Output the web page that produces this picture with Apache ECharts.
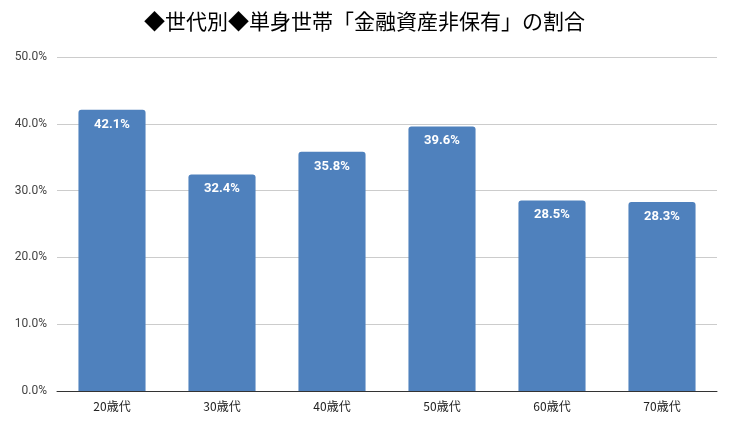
<!DOCTYPE html>
<html>
<head>
<meta charset="utf-8">
<script src="https://cdn.jsdelivr.net/npm/echarts@6/dist/echarts.min.js"></script>
<style>
html, body { margin: 0; padding: 0; background: #fff; }
#chart { width: 729px; height: 430px; }
</style>
</head>
<body>
<div id="chart"></div>
<script>
let categories = ['20歳代', '30歳代', '40歳代', '50歳代', '60歳代', '70歳代'];
let values = [42.1, 32.4, 35.8, 39.6, 28.5, 28.3];

let myChart = echarts.init(document.getElementById('chart'));

let option = {
  animation: false,
  title: {
    text: '◆世代別◆単身世帯「金融資産非保有」の割合',
    left: 'center',
    top: 6,
    textStyle: {
      fontFamily: 'Noto Sans CJK JP',
      fontSize: 21,
      fontWeight: 'normal',
      color: '#000'
    }
  },
  grid: {
    left: 57,
    right: 12,
    top: 57,
    bottom: 39
  },
  xAxis: {
    type: 'category',
    data: categories,
    axisLine: { lineStyle: { color: '#333', width: 1 } },
    axisTick: { show: false },
    axisLabel: { color: '#222', fontSize: 12, fontFamily: 'Noto Sans CJK JP', margin: 9 }
  },
  yAxis: {
    type: 'value',
    min: 0,
    max: 50,
    interval: 10,
    axisLine: { show: false },
    axisTick: { show: false },
    splitLine: { lineStyle: { color: '#ccc' } },
    axisLabel: {
      color: '#444',
      fontSize: 12,
      fontFamily: 'Roboto',
      margin: 10,
      formatter: v => v.toFixed(1) + '%'
    }
  },
  series: [
    {
      type: 'bar',
      data: values,
      barWidth: '61%',
      itemStyle: { color: '#4f81bd', borderRadius: [3, 3, 0, 0] },
      label: {
        show: true,
        position: 'insideTop',
        distance: 8,
        color: '#fff',
        fontWeight: 'bold',
        fontSize: 13,
        fontFamily: 'Roboto',
        formatter: p => p.value.toFixed(1) + '%'
      }
    }
  ]
};

myChart.setOption(option);
</script>
</body>
</html>
